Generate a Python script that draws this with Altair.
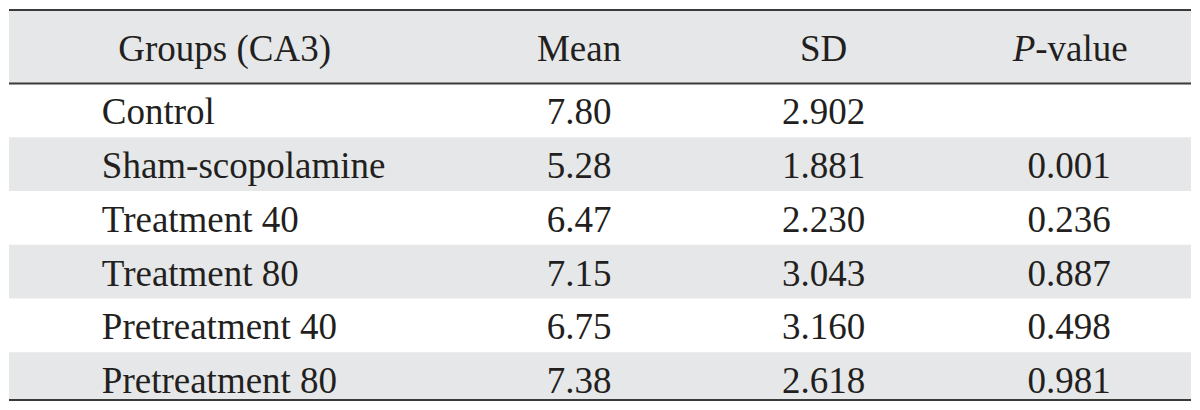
import altair as alt
import pandas as pd

# ---- table content ----
groups = ["Control", "Sham-scopolamine", "Treatment 40", "Treatment 80",
          "Pretreatment 40", "Pretreatment 80"]
mean = ["7.80", "5.28", "6.47", "7.15", "6.75", "7.38"]
sd = ["2.902", "1.881", "2.230", "3.043", "3.160", "2.618"]
pval = ["", "0.001", "0.236", "0.887", "0.498", "0.981"]
headers = ["Groups (CA3)", "Mean", "SD", "P-value"]

# ---- layout ----
W, H = 1184, 394
HEAD = 1.5                      # header height in row units
X_DOMAIN = [8, 1192]            # horizontal extent (layout units)
Y_DOMAIN = [0.1296, 7.389]      # visible row-unit window (edges clamp)
LABEL_X = 101                   # left edge of the group labels
COL_X = {"Groups (CA3)": 224, "Mean": 579, "SD": 824, "P-value": 1070}
P_SPLIT = 1036                  # where italic "P" meets "-value"
FONT = "Liberation Serif"
FS = 37
TXT = "#231f20"
GRAY = "#e6e7e8"
LINE = "#3a3a3a"

n = len(groups)
xs = alt.Scale(domain=X_DOMAIN, nice=False, zero=False)
ys = alt.Scale(domain=Y_DOMAIN, reverse=True, nice=False, zero=False, clamp=True)

# background bands
bands = pd.DataFrame({
    "y0": [0.0] + [HEAD + i for i in range(n)],
    "y1": [HEAD] + [HEAD + i + 1 for i in range(n)],
    "shade": [True] + [i % 2 == 1 for i in range(n)],
})
bands["x0"] = X_DOMAIN[0]
bands["x1"] = X_DOMAIN[1]
bands = bands[bands["shade"]]

bg = alt.Chart(bands).mark_rect(color=GRAY).encode(
    x=alt.X("x0:Q", scale=xs, axis=None), x2="x1:Q",
    y=alt.Y("y0:Q", scale=ys, axis=None), y2="y1:Q",
)

lines = pd.DataFrame({"y": [0.0, HEAD, HEAD + n]})
lines["x0"] = X_DOMAIN[0]
lines["x1"] = X_DOMAIN[1]
rules = alt.Chart(lines).mark_rule(color=LINE, strokeWidth=2).encode(
    x=alt.X("x0:Q", scale=xs, axis=None), x2="x1:Q",
    y=alt.Y("y:Q", scale=ys, axis=None),
)

# header texts
hdr = pd.DataFrame({
    "t": [h for h in headers if h != "P-value"],
    "x": [COL_X[h] for h in headers if h != "P-value"],
})
hdr["y"] = HEAD / 2
hdr_text = alt.Chart(hdr).mark_text(
    font=FONT, fontSize=FS, color=TXT, align="center", baseline="alphabetic", dy=17.5
).encode(x=alt.X("x:Q", scale=xs, axis=None), y=alt.Y("y:Q", scale=ys, axis=None), text="t:N")

pdf = pd.DataFrame({"t": ["P"], "x": [P_SPLIT], "y": [HEAD / 2]})
p_it = alt.Chart(pdf).mark_text(
    font=FONT, fontSize=FS, color=TXT, fontStyle="italic", align="right",
    baseline="alphabetic", dy=17.5
).encode(x=alt.X("x:Q", scale=xs, axis=None), y=alt.Y("y:Q", scale=ys, axis=None), text="t:N")

vdf = pd.DataFrame({"t": ["-value"], "x": [P_SPLIT], "y": [HEAD / 2]})
p_rest = alt.Chart(vdf).mark_text(
    font=FONT, fontSize=FS, color=TXT, align="left", baseline="alphabetic", dy=17.5
).encode(x=alt.X("x:Q", scale=xs, axis=None), y=alt.Y("y:Q", scale=ys, axis=None), text="t:N")

# body: group labels
lab = pd.DataFrame({"t": groups, "y": [HEAD + i + 0.5 for i in range(n)]})
lab["x"] = LABEL_X
lab_text = alt.Chart(lab).mark_text(
    font=FONT, fontSize=FS, color=TXT, align="left", baseline="alphabetic", dy=14
).encode(x=alt.X("x:Q", scale=xs, axis=None), y=alt.Y("y:Q", scale=ys, axis=None), text="t:N")

# body: numeric cells
cells = []
for col, vals in (("Mean", mean), ("SD", sd), ("P-value", pval)):
    for i, v in enumerate(vals):
        cells.append({"t": v, "x": COL_X[col], "y": HEAD + i + 0.5})
cells = pd.DataFrame(cells)
cell_text = alt.Chart(cells).mark_text(
    font=FONT, fontSize=FS, color=TXT, align="center", baseline="alphabetic", dy=14
).encode(x=alt.X("x:Q", scale=xs, axis=None), y=alt.Y("y:Q", scale=ys, axis=None), text="t:N")

chart = alt.layer(bg, rules, hdr_text, p_it, p_rest, lab_text, cell_text).properties(
    width=W, height=H,
    padding={"top": 1, "bottom": 1, "left": 0, "right": 0},
    autosize=alt.AutoSizeParams(type="fit", contains="padding"),
).configure_view(stroke=None)

chart.save("out.html", embed_options={"renderer": "svg", "actions": False})
